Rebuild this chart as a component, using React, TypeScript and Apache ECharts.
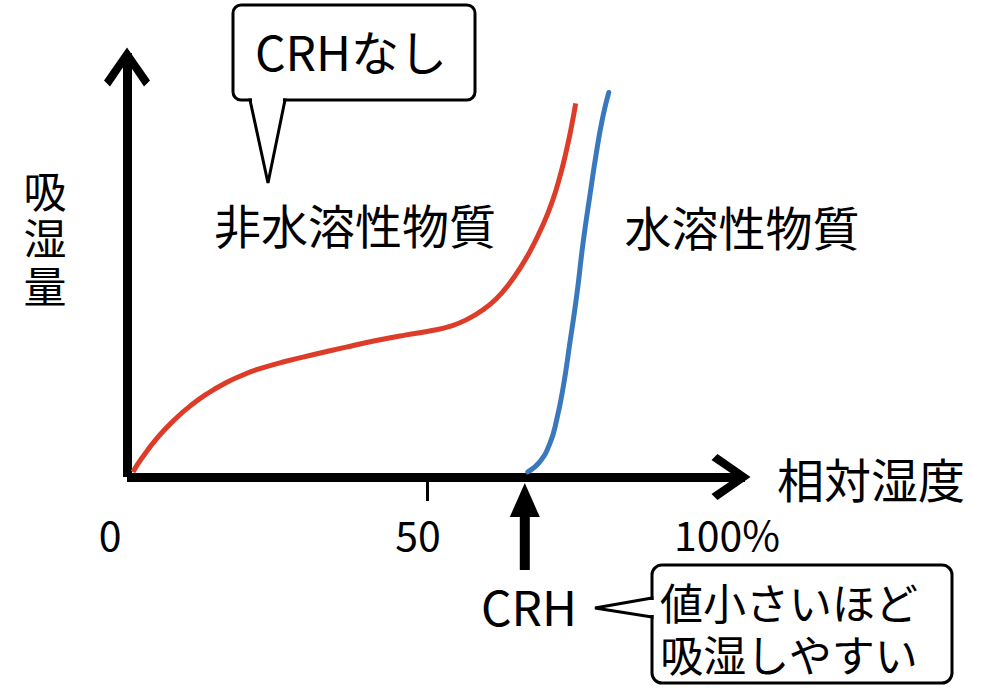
import React, { useEffect, useRef } from "react";
import * as echarts from "echarts";

// Relative humidity (%) and moisture absorption (arbitrary units, 0-100)
const insolubleX = [1.0, 2.45, 5.22, 8.0, 10.78, 13.55, 16.33, 19.12, 21.88, 26.33, 31.33, 36.33, 41.33, 46.33, 51.05, 53.83, 56.62, 59.38, 61.67, 63.55, 65.78, 67.45, 69.12, 70.78, 72.17, 73.28, 74.12, 74.78];
const insolubleY = [1.2, 4.41, 9.5, 13.63, 17.03, 19.81, 22.1, 23.94, 25.42, 27.24, 28.94, 30.57, 32.12, 33.47, 34.6, 35.54, 37.12, 39.48, 42.22, 45.28, 49.86, 53.99, 58.82, 64.6, 70.97, 77.29, 82.95, 88.14];
const solubleX = [66.8, 68.8, 70.5, 71.6, 72.7, 73.8, 75.0, 76.0, 77.2, 78.3, 79.3, 80.3];
const solubleY = [1.2, 3.6, 8.0, 13.4, 21.2, 31.5, 43.3, 55.1, 66.9, 77.1, 84.9, 90.7];
const xTickValues = [50];
const xLabelValues = [0, 50, 100];
const CRH = 66.3;

const FONT = '"Noto Sans CJK JP", "Noto Sans", sans-serif';
const CHEVRON = "path://M23 0 L46 33 L40 39 L23 14 L6 39 L0 33 Z";

export default function App() {
  const ref = useRef<HTMLDivElement>(null);
  useEffect(() => {
    if (!ref.current) return;
    const chart = echarts.init(ref.current, undefined, { renderer: "svg" });
    const pairs = (xs: number[], ys: number[]) => xs.map((x, i) => [x, ys[i]]);
    const axisLine = {
      show: true,
      lineStyle: { color: "#000", width: 9, cap: "butt" },
      symbol: ["none", CHEVRON],
      symbolSize: [46, 39],
      symbolOffset: [0, -14],
    };
    chart.setOption({
      animation: false,
      backgroundColor: "#fff",
      grid: { left: 127, right: 259, top: 53, bottom: 211, containLabel: false },
      xAxis: {
        type: "value",
        min: 0,
        max: 103,
        axisLine,
        splitLine: { show: false },
        axisTick: { show: true, customValues: xTickValues, length: 24, lineStyle: { color: "#000", width: 3 } },
        axisLabel: {
          show: true,
          customValues: xLabelValues,
          margin: 35,
          color: "#000",
          fontFamily: FONT,
          fontSize: 41,
          formatter: (v: number) => (v === 0 ? "{a|0}" : v === 50 ? "{b|50}" : "{c|100%}"),
          rich: {
            a: { fontFamily: FONT, fontSize: 41, color: "#000", padding: [0, 34, 0, 0] },
            b: { fontFamily: FONT, fontSize: 41, color: "#000", padding: [0, 18, 0, 0] },
            c: { fontFamily: FONT, fontSize: 41, color: "#000" },
          },
        },
        name: "相対湿度",
        nameLocation: "end",
        nameGap: 32,
        nameTextStyle: { fontFamily: FONT, fontSize: 47, color: "#000" },
      },
      yAxis: {
        type: "value",
        min: 0,
        max: 100,
        axisLine,
        splitLine: { show: false },
        axisTick: { show: false },
        axisLabel: { show: false },
      },
      series: [
        {
          type: "line",
          name: "非水溶性物質",
          data: pairs(insolubleX, insolubleY),
          smooth: true,
          showSymbol: false,
          lineStyle: { color: "#dc3c28", width: 5 },
          z: 1,
        },
        {
          type: "line",
          name: "水溶性物質",
          data: pairs(solubleX, solubleY),
          smooth: true,
          showSymbol: false,
          lineStyle: { color: "#3a78bd", width: 5, cap: "round" },
          z: 1,
        },
      ],
    });

    const crhPx = chart.convertToPixel({ xAxisIndex: 0 }, CRH) as number;
    const txt = (x: number, y: number, text: string, size: number, extra: any = {}) => ({
      type: "text",
      x,
      y,
      style: { text, fill: "#000", font: `${size}px ${FONT}`, align: "center", verticalAlign: "middle", ...extra },
    });

    chart.setOption({
      graphic: [
        txt(45, 189, "吸", 43),
        txt(45, 236, "湿", 43),
        txt(45, 284, "量", 43),
        txt(355, 223, "非水溶性物質", 47),
        txt(742, 225, "水溶性物質", 47),
        // Callout 1
        { type: "rect", shape: { x: 233, y: 5, width: 242, height: 95, r: 8 }, style: { fill: "#fff", stroke: "#000", lineWidth: 3 } },
        { type: "polygon", shape: { points: [[250, 100], [268, 183], [285, 100]] }, style: { fill: "#fff", stroke: "#000", lineWidth: 3 } },
        { type: "rect", shape: { x: 252, y: 97.5, width: 31, height: 5 }, style: { fill: "#fff" } },
        txt(351, 50, "CRHなし", 48),
        // CRH arrow
        { type: "polygon", shape: { points: [[crhPx, 483], [crhPx - 15, 517], [crhPx + 15, 517]] }, style: { fill: "#000" } },
        { type: "rect", shape: { x: crhPx - 5, y: 515, width: 10, height: 55 }, style: { fill: "#000" } },
        txt(529, 605, "CRH", 48),
        // Callout 2
        { type: "rect", shape: { x: 652, y: 565, width: 300, height: 118, r: 10 }, style: { fill: "#fff", stroke: "#000", lineWidth: 3 } },
        { type: "polygon", shape: { points: [[652, 598], [595, 608], [652, 617]] }, style: { fill: "#fff", stroke: "#000", lineWidth: 3 } },
        { type: "rect", shape: { x: 649.5, y: 600, width: 5, height: 15 }, style: { fill: "#fff" } },
        txt(789, 601, "値小さいほど", 43),
        txt(789, 653, "吸湿しやすい", 43),
      ],
    });
    return () => chart.dispose();
  }, []);
  return <div ref={ref} style={{ width: 1004, height: 688, position: "absolute", left: 0, top: 0 }} />;
}
